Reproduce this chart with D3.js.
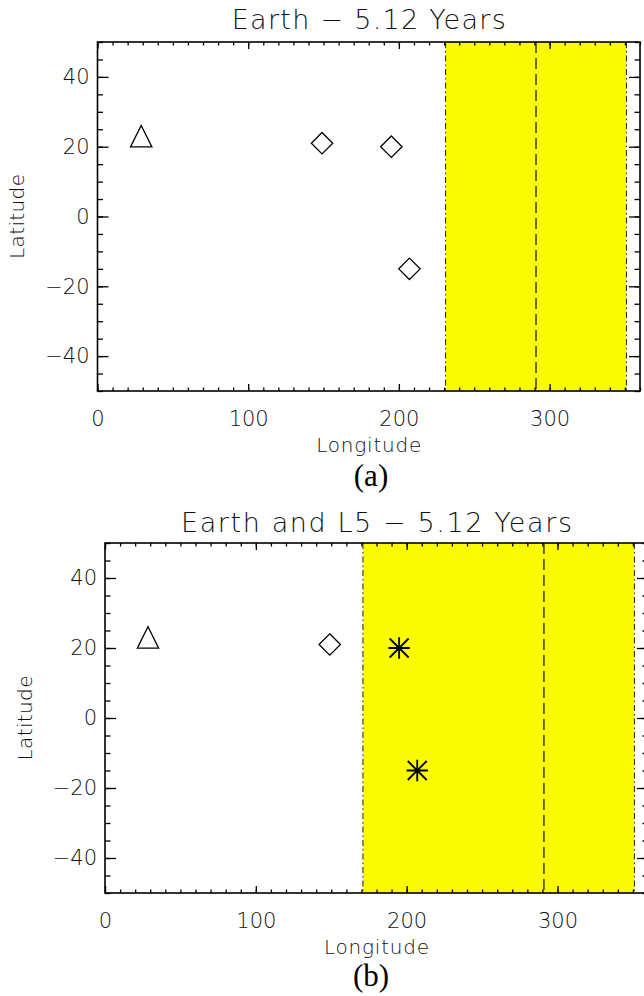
<!DOCTYPE html>
<html>
<head>
<meta charset="utf-8">
<script src="https://cdn.jsdelivr.net/npm/d3@7"></script>
<style>
body{margin:0;background:#fff;}
svg{display:block;}
.ax text{font-family:"DejaVu Sans",sans-serif;font-weight:200;font-size:21px;fill:#111;}
.ax line{stroke:#000;stroke-width:1.3px;}
.lbl{font-family:"DejaVu Sans",sans-serif;font-weight:200;fill:#111;}
.cap{font-family:"Liberation Serif","Times New Roman",serif;font-size:31px;fill:#000;}
</style>
</head>
<body>
<svg id="fig" width="644" height="996"></svg>
<script>
var lon_ticks = [0,100,200,300];
var lat_ticks = [-40,-20,0,20,40];
var lon_minor = d3.range(0,361,10);
var lat_minor = d3.range(-50,51,5);

// panel (a): Earth only
var a_tri_lon = [29], a_tri_lat = [23];
var a_dia_lon = [149,195,207], a_dia_lat = [21,20,-15];
var a_band = [231,351], a_center = 291;

// panel (b): Earth and L5
var b_tri_lon = [28.5], b_tri_lat = [23];
var b_dia_lon = [149], b_dia_lat = [21];
var b_ast_lon = [195,207], b_ast_lat = [20,-15];
var b_band = [171,351], b_center = 291;

var svg = d3.select("#fig");

function pts(lons,lats){ return lons.map(function(d,i){ return {lon:d, lat:lats[i]}; }); }

var r = 10.7;
var tri_path = "M0," + (-r) + "L" + r + "," + r + "L" + (-r) + "," + r + "Z";
var dia_path = "M0," + (-r) + "L" + r + ",0L0," + r + "L" + (-r) + ",0Z";
var q = 9.5;
var ast_path = "M" + (-r) + ",0H" + r + "M0," + (-r) + "V" + r +
               "M" + (-q) + "," + (-q) + "L" + q + "," + q + "M" + (-q) + "," + q + "L" + q + "," + (-q);

function draw_panel(p){
  var x = d3.scaleLinear().domain([0,360]).range([p.left,p.right]);
  var y = d3.scaleLinear().domain([-50,50]).range([p.bottom,p.top]);
  var g = svg.append("g");

  // shaded band
  g.append("rect").attr("x",x(p.band[0])).attr("y",p.top)
    .attr("width",x(p.band[1])-x(p.band[0])).attr("height",p.bottom-p.top).attr("fill","#fafa00");
  g.selectAll("line.edge").data(p.band).enter().append("line").attr("class","edge")
    .attr("x1",d=>x(d)).attr("x2",d=>x(d)).attr("y1",p.top).attr("y2",p.bottom)
    .attr("stroke","#222").attr("stroke-width",1).attr("stroke-dasharray","6,3,1.5,3");
  g.append("line").attr("x1",x(p.center)).attr("x2",x(p.center)).attr("y1",p.top).attr("y2",p.bottom)
    .attr("stroke","#222").attr("stroke-width",1.3).attr("stroke-dasharray","11,5");

  // markers
  g.selectAll("path.tri").data(p.tri).enter().append("path").attr("class","tri").attr("d",tri_path)
    .attr("transform",d=>"translate(" + x(d.lon) + "," + y(d.lat) + ")")
    .attr("fill","none").attr("stroke","#000").attr("stroke-width",1.3);
  g.selectAll("path.dia").data(p.dia).enter().append("path").attr("class","dia").attr("d",dia_path)
    .attr("transform",d=>"translate(" + x(d.lon) + "," + y(d.lat) + ")")
    .attr("fill","none").attr("stroke","#000").attr("stroke-width",1.3);
  g.selectAll("path.ast").data(p.ast).enter().append("path").attr("class","ast").attr("d",ast_path)
    .attr("transform",d=>"translate(" + x(d.lon) + "," + y(d.lat) + ")")
    .attr("fill","none").attr("stroke","#000").attr("stroke-width",1.8);

  // axes (inward ticks)
  var fmt = function(d){ return d < 0 ? "\u2212" + Math.abs(d) : String(d); };
  var ax = function(t, a){ var s = g.append("g").attr("class","ax").attr("transform",t).call(a); s.select(".domain").remove(); return s; };
  ax("translate(0," + p.bottom + ")", d3.axisBottom(x).tickValues(lon_minor).tickSize(-3.5).tickFormat(""));
  ax("translate(0," + p.bottom + ")", d3.axisBottom(x).tickValues(lon_ticks).tickSize(-7).tickPadding(20));
  ax("translate(0," + p.top + ")", d3.axisTop(x).tickValues(lon_minor).tickSize(-3.5).tickFormat(""));
  ax("translate(0," + p.top + ")", d3.axisTop(x).tickValues(lon_ticks).tickSize(-7).tickFormat(""));
  ax("translate(" + p.left + ",0)", d3.axisLeft(y).tickValues(lat_minor).tickSize(-5.5).tickFormat(""));
  ax("translate(" + p.left + ",0)", d3.axisLeft(y).tickValues(lat_ticks).tickSize(-11).tickPadding(8).tickFormat(fmt));
  ax("translate(" + p.right + ",0)", d3.axisRight(y).tickValues(lat_minor).tickSize(-5.5).tickFormat(""));
  ax("translate(" + p.right + ",0)", d3.axisRight(y).tickValues(lat_ticks).tickSize(-11).tickFormat(""));

  g.append("rect").attr("x",p.left).attr("y",p.top).attr("width",p.right-p.left).attr("height",p.bottom-p.top)
    .attr("fill","none").attr("stroke","#000").attr("stroke-width",1.6);

  // labels
  var cx = (p.left + p.right) / 2;
  g.append("text").attr("class","lbl").attr("x",cx).attr("y",p.titleY).attr("text-anchor","middle")
    .attr("font-size",27).attr("textLength",p.titleLen).attr("lengthAdjust","spacing").text(p.title);
  g.append("text").attr("class","lbl").attr("x",cx).attr("y",p.xlabY).attr("text-anchor","middle")
    .attr("font-size",20).attr("textLength",105).attr("lengthAdjust","spacing").text("Longitude");
  g.append("text").attr("class","lbl").attr("text-anchor","middle")
    .attr("transform","translate(" + p.ylabX + "," + ((p.top + p.bottom) / 2) + ") rotate(-90)")
    .attr("font-size",20).attr("textLength",85).attr("lengthAdjust","spacing").text("Latitude");
  g.append("text").attr("class","cap").attr("x",371).attr("y",p.capY).attr("text-anchor","middle").text(p.cap);
}

draw_panel({left:97.5, right:640, top:42, bottom:391,
  band:a_band, center:a_center,
  tri:pts(a_tri_lon,a_tri_lat), dia:pts(a_dia_lon,a_dia_lat), ast:[],
  title:"Earth \u2212 5.12 Years", titleLen:274, titleY:29, xlabY:452, ylabX:24, cap:"(a)", capY:486});

draw_panel({left:105, right:648, top:543, bottom:893,
  band:b_band, center:b_center,
  tri:pts(b_tri_lon,b_tri_lat), dia:pts(b_dia_lon,b_dia_lat), ast:pts(b_ast_lon,b_ast_lat),
  title:"Earth and L5 \u2212 5.12 Years", titleLen:391, titleY:532, xlabY:954, ylabX:32, cap:"(b)", capY:986});
</script>
</body>
</html>
